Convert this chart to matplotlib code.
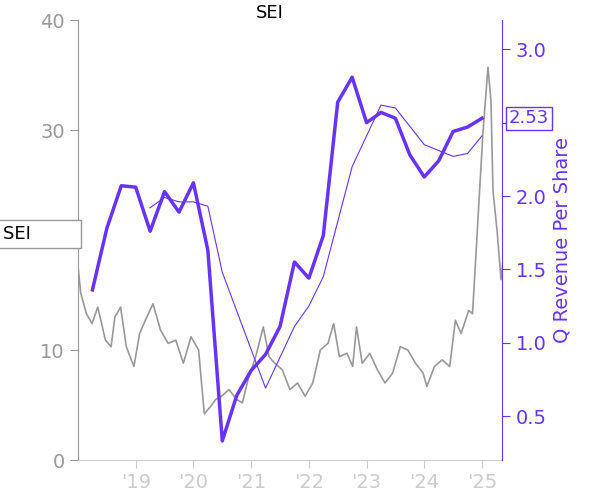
import matplotlib
matplotlib.use("Agg")
import matplotlib.pyplot as plt

rev_t = [2018.25 + 0.25*i for i in range(28)]
rev = [1.36,1.78,2.07,2.06,1.76,2.03,1.89,2.09,1.63,0.33,0.64,0.81,0.92,1.11,1.55,1.44,
       1.73,2.64,2.81,2.50,2.57,2.53,2.28,2.13,2.24,2.44,2.47,2.53]
avg_t = [2019.25,2019.5,2019.75,2020.0,2020.25,2020.5,2021.25,2021.75,2022.0,2022.25,
         2022.75,2023.25,2023.5,2024.0,2024.5,2024.75,2025.0]
avg = [1.92,1.99,1.96,1.96,1.93,1.48,0.69,1.11,1.25,1.45,2.2,2.62,2.6,2.35,2.27,2.29,2.41]

px_zx = [203,210,225,240,255,275,290,300,315,330,350,365,380,400,420,440,460,480,500,520,535,550,
         565,580,600,620,635,650,670,690,705,720,740,760,780,800,820,840,860,875,890,910,925,935,
         950,970,990,1010,1030,1050,1070,1090,1110,1120,1140,1160,1180,1195,1210,1230,1240]
px_v = [17.6,15.2,13.3,12.4,13.9,10.9,10.3,13.0,13.9,10.3,8.5,11.5,12.7,14.2,11.8,10.6,10.9,8.8,11.2,
        10.0,4.2,4.8,5.5,5.8,6.4,5.5,5.2,7.3,9.4,12.1,9.4,8.8,8.2,6.4,7.0,5.8,7.0,10.0,10.6,12.4,9.4,
        9.7,8.5,12.1,8.8,9.7,8.2,7.0,7.9,10.3,10.0,8.8,7.9,6.7,8.5,9.1,8.5,12.7,11.5,13.6,13.3]
spike_x = [480,485,488,490,494,498,500]
spike_v = [29.7,35.7,32.7,24.5,20.9,16.4,18.2]
price_t = [2018 + (z - 203)/151.7 for z in px_zx] + [2018 + (x - 78)/57.3 for x in spike_x]
price = px_v + spike_v

purple = "#6633ff"
gray = "#999999"
fig = plt.figure(figsize=(6, 5), dpi=100)
ax = fig.add_axes([0.13, 0.08, 0.707, 0.88])
ax.plot(price_t, price, color=gray, lw=1.2)
ax.set_xlim(2018.0, 2025.35)
ax.set_ylim(0, 40)
ax.set_yticks([0, 10, 20, 30, 40])
ax.set_yticklabels(["0", "10", "", "30", "40"])
ax.tick_params(axis="y", colors=gray, labelsize=14, length=6)
ax.set_xticks(range(2019, 2026))
ax.set_xticklabels(["'19","'20","'21","'22","'23","'24","'25"])
ax.tick_params(axis="x", colors="#cccccc", labelsize=14, length=6)
for lbl in ax.get_xticklabels():
    lbl.set_color("#cccccc")
ax.spines["top"].set_visible(False)
ax.spines["right"].set_visible(False)
ax.spines["left"].set_color(gray)
ax.spines["bottom"].set_color("#cccccc")
fig.text(0.45, 0.975, "SEI", fontsize=13, ha="center", va="center")
fig.text(0.005, 0.532, "SEI        ", fontsize=13, va="center", ha="left",
         bbox=dict(boxstyle="square,pad=0.25", fc="white", ec=gray))

ax2 = ax.twinx()
ax2.plot(rev_t, rev, color=purple, lw=2.5)
ax2.plot(avg_t, avg, color=purple, lw=0.8)
ax2.set_ylim(0.2, 3.2)
ax2.set_yticks([0.5, 1.0, 1.5, 2.0, 2.5, 3.0])
ax2.set_yticklabels(["0.5", "1.0", "1.5", "2.0", "", "3.0"])
ax2.tick_params(axis="y", colors=purple, labelsize=14, length=6)
for s in ["top", "left", "bottom"]:
    ax2.spines[s].set_visible(False)
ax2.spines["right"].set_color(purple)
ax2.set_ylabel("Q Revenue Per Share", color=purple, fontsize=14)
ax2.text(1.015, 2.53, "2.53", transform=ax2.get_yaxis_transform(), fontsize=13, color=purple,
         va="center", ha="left", bbox=dict(boxstyle="square,pad=0.15", fc="white", ec=purple))
fig.savefig("out.png")
